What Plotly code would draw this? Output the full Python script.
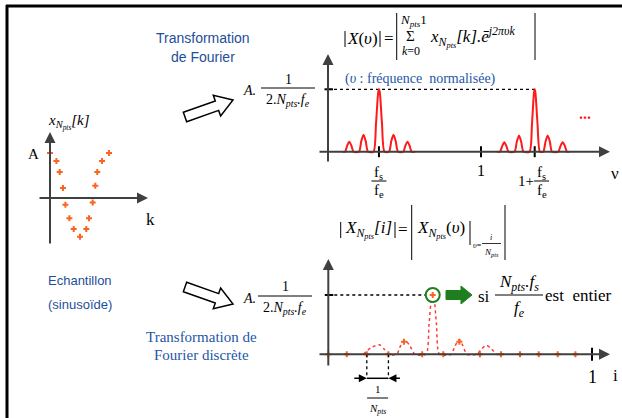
import math
import plotly.graph_objects as go

W, H = 622, 418

# ----------------- data -----------------
# left panel: sampled sinusoid x_Npts[k]
k_pos = [0.0, 0.64, 0.97, 1.30, 1.54, 1.94, 2.37, 3.00, 3.63, 3.90, 4.27, 4.53, 4.73, 5.20, 5.90]
x_k = [1.00, 0.82, 0.58, 0.22, -0.15, -0.45, -0.69, -0.86, -0.69, -0.45, -0.10, 0.27, 0.58, 0.82, 1.00]

# top-right: |X(nu)| continuous spectrum, image around fs/fe
nu_1 = [0.0961, 0.1111, 0.1261, 0.1392, 0.1523, 0.1667, 0.2026, 0.2176, 0.2320, 0.2464, 0.2614,
        0.2974, 0.3137, 0.3281, 0.3333, 0.3386, 0.3529, 0.3693, 0.3987, 0.4137, 0.4281, 0.4425, 0.4575,
        0.4922, 0.5065, 0.5196, 0.5327, 0.5471, 0.5686]
amp_1 = [0, 0, 0.10, 0.16, 0.10, 0, 0, 0.17, 0.27, 0.17, 0,
         0, 0.45, 0.95, 1.0, 0.95, 0.45, 0, 0, 0.17, 0.27, 0.17, 0,
         0, 0.10, 0.16, 0.10, 0, 0]
# image around 1 + fs/fe
nu_2 = [1.1065, 1.1242, 1.1386, 1.1523, 1.1660, 1.1797, 1.2190, 1.2340, 1.2484, 1.2627, 1.2778,
        1.3170, 1.3333, 1.3464, 1.3510, 1.3556, 1.3693, 1.3856, 1.4072, 1.4216, 1.4359, 1.4503, 1.4641,
        1.5052, 1.5196, 1.5340, 1.5484, 1.5621, 1.5771]
amp_2 = [0, 0, 0.09, 0.15, 0.09, 0, 0, 0.16, 0.26, 0.16, 0,
         0, 0.45, 0.95, 1.0, 0.95, 0.45, 0, 0, 0.16, 0.26, 0.16, 0,
         0, 0.09, 0.15, 0.09, 0, 0]
nu_ticks = [0.333, 1.0, 1.351]  # fs/fe, 1, 1+fs/fe

# bottom-right: DFT samples |X_Npts[i]| vs i/Npts
i_pos = [0.0, 0.070, 0.146, 0.228, 0.287, 0.356, 0.396, 0.436, 0.497, 0.575, 0.655, 0.727, 0.798, 0.870, 0.937]
dft_amp = [0, 0, 0, 0, 0.21, 0, 1.0, 0, 0.21, 0, 0, 0, 0, 0, 0]
# underlying spectrum drawn dotted
i_curve = [0.1327, 0.1619, 0.1934, 0.2112, 0.2275, 0.2594, 0.2738, 0.2909, 0.3098, 0.3288,
           0.3705, 0.3819, 0.3914, 0.3959, 0.4008, 0.4103, 0.4217, 0.4653, 0.4805, 0.4968, 0.5108, 0.5260,
           0.5628, 0.5810, 0.6007, 0.6189, 0.6386, 0.6511]
amp_curve = [0, 0.11, 0.16, 0.09, 0, 0, 0.14, 0.24, 0.14, 0,
             0, 0.5, 0.95, 1.0, 0.95, 0.5, 0, 0, 0.14, 0.25, 0.14, 0,
             0, 0.09, 0.15, 0.09, 0, 0]
i_ticks = [1.0]

# ----------------- styling / geometry -----------------
SERIF = "Liberation Serif, Times New Roman, DejaVu Serif, serif"
SANS = "Liberation Sans, Arial, sans-serif"
BLUE = "#1f4e9a"
BLUE2 = "#2456a8"
AXC = "#404040"
ORANGE = "#fa6420"
RED = "#ff1a1a"
GREEN = "#1f7f1f"

# panel: origin pixel, pixel per unit, pixel box (x0, x1, ytop, ybottom)
PANELS = {
    1: dict(ox=50.0, oy=198.0, sx=10.0, sy=45.0, box=(20, 160, 110, 262)),
    2: dict(ox=328.0, oy=151.7, sx=153.0, sy=62.4, box=(305, 620, 45, 200)),
    3: dict(ox=328.3, oy=354.3, sx=263.7, sy=59.3, box=(305, 620, 250, 416)),
}
# axis arrows in pixels: horizontal (tail x, tip x), vertical (tail y, tip y)
AXGEOM = {
    1: dict(h=(38, 148), v=(245, 132)),
    2: dict(h=(318, 610), v=(163, 54)),
    3: dict(h=(318, 610), v=(367, 259)),
}


def pxx(p, px):
    P = PANELS[p]
    return (px - P["ox"]) / P["sx"]


def pxy(p, py):
    P = PANELS[p]
    return (P["oy"] - py) / P["sy"]


layout_axes = {}
for p, P in PANELS.items():
    bx0, bx1, by0, by1 = P["box"]
    sfx = "" if p == 1 else str(p)
    layout_axes["xaxis" + sfx] = dict(domain=[bx0 / W, bx1 / W], range=[pxx(p, bx0), pxx(p, bx1)],
                                      visible=False, fixedrange=True, anchor="y" + sfx)
    layout_axes["yaxis" + sfx] = dict(domain=[1 - by1 / H, 1 - by0 / H], range=[pxy(p, by1), pxy(p, by0)],
                                      visible=False, fixedrange=True, anchor="x" + sfx)

annotations = []
shapes = []


def ref(p):
    return "x" if p == 1 else "x%d" % p, "y" if p == 1 else "y%d" % p


def ann(x, y, text, size=14, color="black", family=SERIF, xanchor="center", xref="paper", yref="paper"):
    xv = x / W if xref == "paper" else x
    yv = 1 - y / H if yref == "paper" else y
    annotations.append(dict(x=xv, y=yv, xref=xref, yref=yref, text=text, showarrow=False,
                            xanchor=xanchor, yanchor="middle",
                            font=dict(family=family, size=size, color=color)))


def pline(x0, y0, x1, y1, color="black", width=1.0, dash=None):
    shapes.append(dict(type="line", xref="paper", yref="paper", x0=x0 / W, y0=1 - y0 / H,
                       x1=x1 / W, y1=1 - y1 / H, line=dict(color=color, width=width, dash=dash)))


def frac(xc, ybar, num, den, half, size, dy_num, dy_den, color="black"):
    ann(xc, ybar - dy_num, num, size, color)
    ann(xc, ybar + dy_den, den, size, color)
    pline(xc - half, ybar, xc + half, ybar, color=color, width=1)


def data_frac(xref, xc, ybar, num, den, half, size, dy_num, dy_den):
    ann(xc, ybar - dy_num, num, size, xref=xref)
    ann(xc, ybar + dy_den, den, size, xref=xref)
    shapes.append(dict(type="line", xref=xref, yref="paper", xsizemode="pixel", xanchor=xc, x0=-half,
                       x1=half, y0=1 - ybar / H, y1=1 - ybar / H, line=dict(color="black", width=1)))


def block_arrow(tail, tip, shaft_hw, head_hw, head_len, fill, line_color, lw):
    tx, ty = tail
    qx, qy = tip
    L = math.hypot(qx - tx, qy - ty)
    ux, uy = (qx - tx) / L, (qy - ty) / L
    nx, ny = -uy, ux
    bx, by = qx - ux * head_len, qy - uy * head_len
    pts = [(tx + nx * shaft_hw, ty + ny * shaft_hw), (bx + nx * shaft_hw, by + ny * shaft_hw),
           (bx + nx * head_hw, by + ny * head_hw), (qx, qy),
           (bx - nx * head_hw, by - ny * head_hw), (bx - nx * shaft_hw, by - ny * shaft_hw),
           (tx - nx * shaft_hw, ty - ny * shaft_hw)]
    path = "M " + " L ".join("%.5f,%.5f" % (x / W, 1 - y / H) for x, y in pts) + " Z"
    shapes.append(dict(type="path", xref="paper", yref="paper", path=path, fillcolor=fill,
                       line=dict(color=line_color, width=lw)))


# ---- frame ----
pline(6, 6, 622, 6, width=3)
pline(7, 5, 7, 418, width=3)

# ---- axis arrows ----
for p, g in AXGEOM.items():
    xr, yr = ref(p)
    h0, h1 = g["h"]
    v0, v1 = g["v"]
    annotations.append(dict(xref=xr, yref=yr, x=pxx(p, h1), y=0, ax=h0 - h1, ay=0, text="",
                            showarrow=True, arrowhead=2, arrowsize=1.1, arrowwidth=2, arrowcolor=AXC))
    annotations.append(dict(xref=xr, yref=yr, x=0, y=pxy(p, v1), ax=0, ay=v0 - v1, text="",
                            showarrow=True, arrowhead=2, arrowsize=1.1, arrowwidth=2, arrowcolor=AXC))

# ---- ticks ----
for v in nu_ticks:
    shapes.append(dict(type="line", xref="x2", yref="y2", x0=v, x1=v, ysizemode="pixel", yanchor=0,
                       y0=-5.5, y1=5.5, line=dict(color="black", width=2)))
for v in i_ticks:
    shapes.append(dict(type="line", xref="x3", yref="y3", x0=v, x1=v, ysizemode="pixel", yanchor=0,
                       y0=-6.5, y1=6.5, line=dict(color="black", width=2)))
for p in (2, 3):
    xr, yr = ref(p)
    shapes.append(dict(type="line", xref=xr, yref=yr, xsizemode="pixel", xanchor=0, x0=-3.5, x1=5,
                       y0=1, y1=1, line=dict(color="black", width=2)))

# dotted reference lines at max amplitude
shapes.append(dict(type="line", xref="x2", yref="y2", x0=0, x1=nu_ticks[2], y0=max(amp_1), y1=max(amp_1),
                   line=dict(color="black", width=1.3, dash="dot"), layer="below"))
pk = dft_amp.index(max(dft_amp))
shapes.append(dict(type="line", xref="x3", yref="y3", x0=0, x1=i_pos[pk], y0=dft_amp[pk], y1=dft_amp[pk],
                   line=dict(color="black", width=1.3, dash="dot"), layer="below"))

# 1/Npts dimension
ydim = pxy(3, 378.3)
for j in (2, 3):
    shapes.append(dict(type="line", xref="x3", yref="y3", x0=i_pos[j], x1=i_pos[j], y0=0, y1=ydim,
                       line=dict(color="black", width=1.3, dash="dot")))
shapes.append(dict(type="line", xref="x3", yref="y3", x0=i_pos[2], x1=i_pos[3], y0=ydim, y1=ydim,
                   line=dict(color="black", width=1.5)))
annotations.append(dict(xref="x3", yref="y3", x=i_pos[2], y=ydim, ax=-14, ay=0, text="", showarrow=True,
                        arrowhead=2, arrowsize=1, arrowwidth=1.6, arrowcolor="black"))
annotations.append(dict(xref="x3", yref="y3", x=i_pos[3], y=ydim, ax=13, ay=0, text="", showarrow=True,
                        arrowhead=2, arrowsize=1, arrowwidth=1.6, arrowcolor="black"))
xc_dim = (i_pos[2] + i_pos[3]) / 2
data_frac("x3", xc_dim, 398, "1", "<i>N<sub>pts</sub></i>", 10.5, 11, 9, 11)

# ---- block arrows ----
block_arrow((185, 117), (233, 100), 5, 11, 17, "white", "black", 1.5)
block_arrow((185, 287), (233, 304), 5, 11, 17, "white", "black", 1.5)
block_arrow((446, 295), (472, 295), 4.5, 9, 11, GREEN, GREEN, 1)

# ---- texts: left ----
ann(203, 38, "Transformation", 14, BLUE, SANS)
ann(203, 57, "de Fourier", 14, BLUE, SANS)
ann(249, 90, "<i>A.</i>", 14)
frac(288, 88, "1", "2.<i>N</i><sub><i>pts</i></sub><i>.f</i><sub><i>e</i></sub>", 27, 14, 9, 12)

ann(69, 122, "<i>x</i><sub><i>N</i><sub><i>pts</i></sub></sub><i>[k]</i>", 15)
ann(33, 154, "A", 15)
ann(150, 219, "k", 17)
ann(80, 280, "Echantillon", 13, BLUE, SANS)
ann(80, 304, "(sinusoïde)", 13, BLUE, SANS)

ann(249, 298, "<i>A.</i>", 14)
frac(285, 296, "1", "2.<i>N</i><sub><i>pts</i></sub><i>.f</i><sub><i>e</i></sub>", 27, 14, 10, 12)
ann(202, 337, "Transformation de", 15, BLUE2)
ann(202, 355, "Fourier discrète", 15, BLUE2)

# ---- texts: top formula ----
for x, y0, y1 in [(345, 31, 47), (380, 31, 47), (396.7, 13, 60), (535, 13, 60)]:
    pline(x, y0, x, y1, width=1)
ann(362.5, 39, "<i>X</i>(<i>υ</i>)", 17)
ann(389, 39, "=", 17)
ann(413, 21, "<i>N</i><sub><i>pts</i></sub>1", 13)
ann(410.5, 36, "Σ", 15)
ann(411, 51, "<i>k</i>=0", 12)
ann(428, 37, "<i>x</i><sub><i>N</i><sub><i>pts</i></sub></sub><i>[k].ē</i><sup><i>j2πυk</i></sup>", 17,
    xanchor="left")
ann(420, 79, "(<i>υ</i> : fréquence&nbsp; normalisée)", 14, BLUE2)
ann(585, 113, "<b>...</b>", 16, RED)

# tick labels under the nu axis
for j, v in enumerate(nu_ticks):
    if j == 1:
        ann(v, 170, "1", 16, xref="x2")
    else:
        xc = v if j == 0 else v + 0.045
        data_frac("x2", xc, 181, "f<sub>s</sub>", "f<sub>e</sub>", 7.5, 15, 8, 10)
        if j == 2:
            ann(v - 0.06, 181, "1+", 15, xref="x2")
ann(615, 173, "ν", 17)

# ---- texts: bottom formula ----
for x, y0, y1 in [(340.7, 222, 238), (395, 222, 238), (411.7, 205, 260), (470, 221, 245), (505, 205, 260)]:
    pline(x, y0, x, y1, width=1)
ann(368, 229, "<i>X</i><sub><i>N</i><sub><i>pts</i></sub></sub><i>[i]</i>", 17)
ann(403, 229, "=", 17)
ann(441, 229, "<i>X</i><sub><i>N</i><sub><i>pts</i></sub></sub>(<i>υ</i>)", 17)
ann(477, 245, "<i>υ</i>=", 8)
ann(491, 237, "<i>i</i>", 8)
pline(482, 243.5, 501, 243.5, width=0.8)
ann(491, 252, "<i>N<sub>pts</sub></i>", 9)

ann(484, 296, "si", 17)
frac(519, 295, "<i>N</i><sub><i>pts</i></sub><i>.f</i><sub><i>s</i></sub>", "<i>f</i><sub><i>e</i></sub>",
     24, 17, 12, 14)
ann(578, 295, "est&nbsp; entier", 17)
ann(592, 377, "1", 18)
ann(615, 375, "i", 17)

# ----------------- traces -----------------
fig = go.Figure()
fig.add_trace(go.Scatter(x=k_pos, y=x_k, mode="markers", xaxis="x", yaxis="y", cliponaxis=False,
                         marker=dict(symbol="cross", size=5, color=ORANGE), hoverinfo="skip"))
for nu, amp in [(nu_1, amp_1), (nu_2, amp_2)]:
    fig.add_trace(go.Scatter(x=nu, y=amp, mode="lines", xaxis="x2", yaxis="y2", cliponaxis=False,
                             line=dict(color=RED, width=2, shape="spline", smoothing=0.7), hoverinfo="skip"))
fig.add_trace(go.Scatter(x=i_curve, y=amp_curve, mode="lines", xaxis="x3", yaxis="y3", cliponaxis=False,
                         line=dict(color="#ff3b3b", width=1.5, dash="dot", shape="spline", smoothing=0.7),
                         hoverinfo="skip"))
fig.add_trace(go.Scatter(x=[i_pos[pk]], y=[dft_amp[pk]], mode="markers", xaxis="x3", yaxis="y3",
                         cliponaxis=False,
                         marker=dict(symbol="circle", size=14, color="white", line=dict(color=GREEN, width=2)),
                         hoverinfo="skip"))
fig.add_trace(go.Scatter(x=i_pos, y=dft_amp, mode="markers", xaxis="x3", yaxis="y3", cliponaxis=False,
                         marker=dict(symbol="cross", size=5, color=ORANGE), hoverinfo="skip"))

fig.update_layout(width=W, height=H, margin=dict(l=0, r=0, t=0, b=0), showlegend=False,
                  paper_bgcolor="white", plot_bgcolor="white", annotations=annotations, shapes=shapes,
                  **layout_axes)
fig.write_html("out.html")
